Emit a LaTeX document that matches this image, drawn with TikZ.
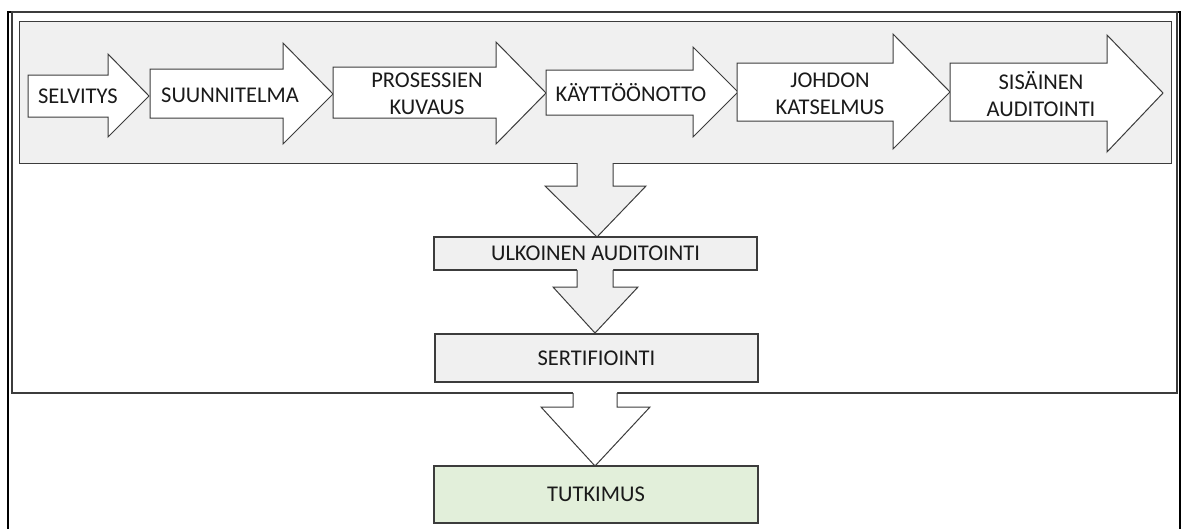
\documentclass[tikz,border=0pt]{standalone}
\usepackage{fontspec}
\setmainfont{Carlito}
\definecolor{panel}{HTML}{F0F0F0}
\definecolor{linec}{HTML}{3C3C3C}
\definecolor{textc}{HTML}{1A1A1A}
\definecolor{greenfill}{HTML}{E2EFDA}
% horizontal block arrow: x0 base, xb head base, xt tip, shaft top/bottom, head top/bottom, tip y
\newcommand\hblockarrow[8]{%
  \draw[blockline, fill=white] (#1,#4) -- (#2,#4) -- (#2,#6) -- (#3,#8) -- (#2,#7) -- (#2,#5) -- (#1,#5) -- cycle;}
% downward block arrow with an open top: shaft left/right, head left/right, tip x, top y, head base y, tip y
\newcommand\vblockarrow[9]{%
  \fill[#9] (#1,#6-0.8) -- (#1,#7) -- (#3,#7) -- (#5,#8) -- (#4,#7) -- (#2,#7) -- (#2,#6-0.8) -- cycle;
  \draw[blockline] (#1,#6) -- (#1,#7) -- (#3,#7) -- (#5,#8) -- (#4,#7) -- (#2,#7) -- (#2,#6);}
\begin{document}
\begin{tikzpicture}[x=1pt,y=-1pt,
  blockline/.style={draw=linec, line width=1pt, line join=miter},
  lbl/.style={font=\fontsize{22.5}{27}\selectfont, text=textc, align=center, inner sep=0pt},
  stagebox/.style={draw=linec, line width=1.1pt, font=\fontsize{22.5}{27}\selectfont, text=textc, inner sep=0pt},
]
\useasboundingbox (0,0) rectangle (1183,528);
% page frame
\draw[black, line width=1.4pt] (8,540) -- (8,12) -- (1180,12) -- (1180,540);
% certification frame
\draw[draw=linec, line width=1.3pt] (12,12) rectangle (1177,393);
% preparation phase panel
\draw[blockline, fill=panel] (19,21) rectangle (1171,163);

% preparation steps
\hblockarrow{28}{108}{149}{75}{117}{54}{137}{96}
\hblockarrow{150}{283}{333}{69}{118}{43}{144}{94}
\hblockarrow{333}{496}{546}{67}{118}{42}{144}{93}
\hblockarrow{546}{693}{738}{70}{115}{47}{137}{92}
\hblockarrow{737}{893}{950}{63}{121}{34}{149}{92}
\hblockarrow{950}{1107}{1163}{63}{121}{35}{152}{93}

\node[lbl] (selv) at (78,96) {SELVITYS};
\node[lbl] (suun) at (230,95) {SUUNNITELMA};
\node[lbl] (pros) at (427,94) {PROSESSIEN\\KUVAUS};
\node[lbl] (kayt) at (631,93) {KÄYTTÖÖNOTTO};
\node[lbl] (johd) at (830,94) {JOHDON\\KATSELMUS};
\node[lbl] (sisa) at (1041,94) {SISÄINEN\\AUDITOINTI};

% audit and certification
\node[stagebox, fill=panel, minimum width=323pt, minimum height=33pt] (ulk) at (595.5,253.5) {ULKOINEN AUDITOINTI};
\vblockarrow{577}{613}{545}{646}{597}{163}{186}{237}{panel}
\node[stagebox, fill=panel, minimum width=323pt, minimum height=48pt] (sert) at (596.5,358) {SERTIFIOINTI};
\vblockarrow{577}{613}{553}{638}{595}{270}{287}{333}{panel}
\vblockarrow{573}{617}{541}{650}{595}{393}{407}{466}{white}
\node[stagebox, fill=greenfill, minimum width=324pt, minimum height=57pt] (tutk) at (596,494.5) {TUTKIMUS};
\end{tikzpicture}
\end{document}
